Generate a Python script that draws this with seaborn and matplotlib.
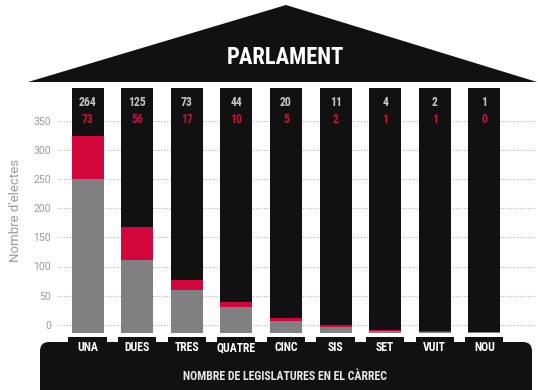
import numpy as np
import pandas as pd
import matplotlib
matplotlib.use("Agg")
import matplotlib.pyplot as plt
from matplotlib import font_manager
from matplotlib.patches import Polygon, Rectangle, FancyBboxPatch
from matplotlib.transforms import blended_transform_factory
import seaborn as sns

categories = ["UNA", "DUES", "TRES", "QUATRE", "CINC", "SIS", "SET", "VUIT", "NOU"]
totals = [264, 125, 73, 44, 20, 11, 4, 2, 1]
women = [73, 56, 17, 10, 5, 2, 1, 1, 0]
y_ticks = [0, 50, 100, 150, 200, 250, 300, 350]

BASE = -14   # columns start a bit under the 0 line
TOP = 406
BLACK = "#111111"
GRAY = "#808080"
RED = "#d2063c"

sns.set_theme(style="white")
installed = {f.name for f in font_manager.fontManager.ttflist}
narrow = next(n for n in ["Liberation Sans Narrow", "Roboto Condensed",
                          "Open Sans Condensed", "DejaVu Sans"] if n in installed)
plt.rcParams['font.family'] = ['Roboto', 'DejaVu Sans']

df = pd.DataFrame({"cat": categories, "total": totals, "women": women})
df["stack"] = df["total"] + BASE

fig = plt.figure(figsize=(5.38, 3.9), dpi=100)
fig.patch.set_facecolor("white")

# decoration layer in pixel coords (roof, base, tabs)
deco = fig.add_axes([0, 0, 1, 1], zorder=0)
deco.set_xlim(0, 538)
deco.set_ylim(390, 0)
deco.axis("off")

ax = fig.add_axes([58 / 538, (390 - 333) / 390, 477 / 538, 245 / 390], zorder=1)
ax.patch.set_alpha(0)

W = 0.645
pos = np.arange(len(categories))
ax.bar(pos, TOP - BASE, bottom=BASE, width=W, color=BLACK, lw=0, zorder=2)
sns.barplot(data=df, x="cat", y="total", bottom=BASE, width=W, color=GRAY,
            saturation=1, errorbar=None, linewidth=0, ax=ax, zorder=3)
sns.barplot(data=df, x="cat", y="women", bottom=df["stack"], width=W, color=RED,
            saturation=1, errorbar=None, linewidth=0, ax=ax, zorder=3)

for i, (t, w) in enumerate(zip(totals, women)):
    ax.text(i, 381, str(t), color="#c4c4c4", ha="center", va="center",
            family=narrow, fontweight="bold", fontsize=8.5, zorder=5)
    ax.text(i, 352, str(w), color="#c8103e", ha="center", va="center",
            family=narrow, fontweight="bold", fontsize=8.5, zorder=5)

ax.set_xlim(-0.595, 9.02)
ax.set_ylim(BASE, TOP)
ax.set_yticks(y_ticks)
ax.yaxis.grid(True, linestyle=(0, (1, 1.5)), color="#b5b5b5", lw=0.8)
ax.set_axisbelow(True)
for s in ax.spines.values():
    s.set_visible(False)
ax.tick_params(axis="y", length=0, pad=5, labelsize=7.5, labelcolor="#9a9a9a")
ax.tick_params(axis="x", length=0, pad=6, labelsize=8.5, labelcolor="white")
ax.set_xticks(pos, categories)
for lab in ax.get_xticklabels():
    lab.set_family(narrow)
    lab.set_fontweight("bold")
ax.set_xlabel("")
ax.set_ylabel("Nombre d'electes", color="#9a9a9a", fontsize=9.5, labelpad=8)

# roof
deco.add_patch(Polygon([(28, 82), (286, 5), (537, 82)], closed=True, color=BLACK, lw=0))
roof_txt = deco.text(285, 57, "PARLAMENT", color="white", ha="center", va="center",
                     family=narrow, fontweight="bold", fontsize=20)

# base with tabs under each column
deco.add_patch(FancyBboxPatch((40, 342), 492, 70, boxstyle="round,pad=0,rounding_size=9",
                              color=BLACK, lw=0))
blend = blended_transform_factory(ax.transData, deco.transData)
for i in pos:
    deco.add_patch(Rectangle((i - 0.385, 337), 0.77, 10, transform=blend, color=BLACK, lw=0))
title_txt = deco.text(285, 377, "NOMBRE DE LEGISLATURES EN EL CÀRREC", color="#e6e6e6",
                      ha="center", va="center", family=narrow, fontweight="bold", fontsize=10)

# fit the condensed titles to the widths of the reference
fig.canvas.draw()
r = fig.canvas.get_renderer()
for txt, target in [(roof_txt, 118), (title_txt, 205)]:
    w = txt.get_window_extent(r).width
    txt.set_fontsize(txt.get_fontsize() * target / w)

fig.savefig("out.png", dpi=100)
